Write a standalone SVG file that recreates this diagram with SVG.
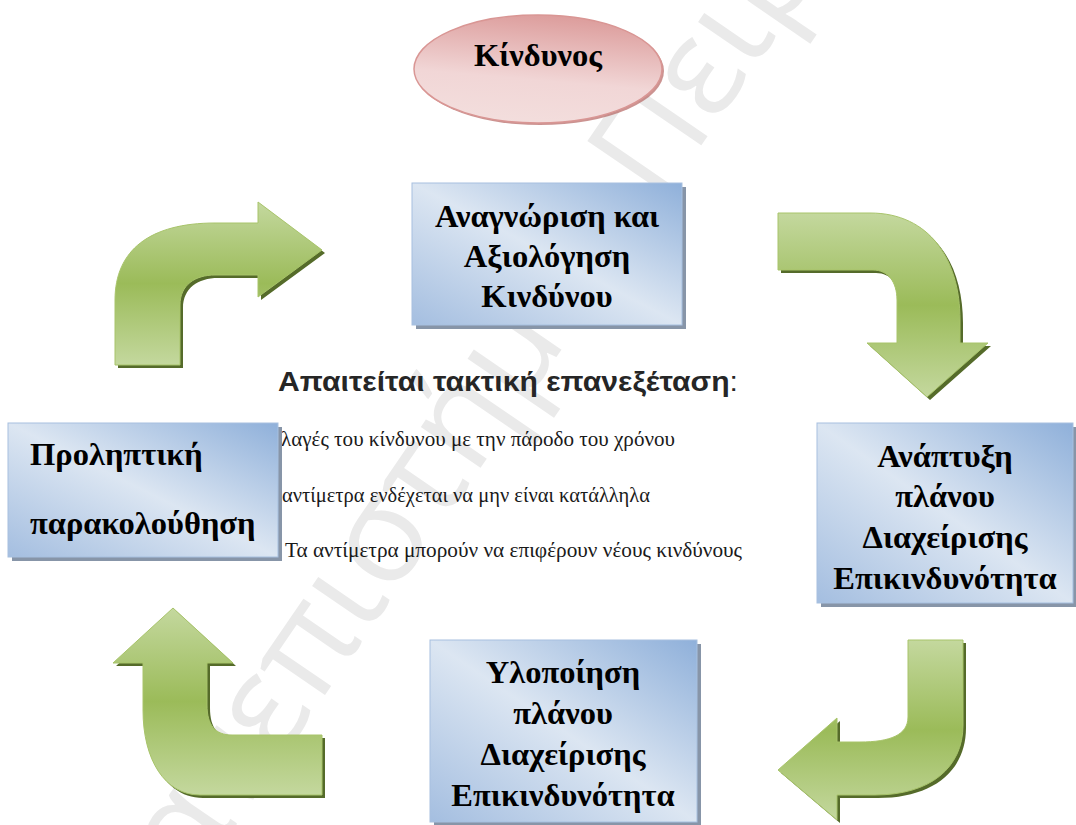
<svg xmlns="http://www.w3.org/2000/svg" width="1076" height="825" viewBox="0 0 1076 825">
<defs>
<linearGradient id="boxGrad" x1="1" y1="0" x2="0" y2="1">
<stop offset="0" stop-color="#8fb0da"/>
<stop offset="0.5" stop-color="#dce6f2"/>
<stop offset="1" stop-color="#a4bee0"/>
</linearGradient>
<linearGradient id="ellGrad" x1="0.6" y1="0" x2="0.4" y2="1">
<stop offset="0" stop-color="#dc9c9b"/>
<stop offset="0.6" stop-color="#f1d6d6"/>
<stop offset="1" stop-color="#f3dedd"/>
</linearGradient>
<linearGradient id="arrGrad" x1="0" y1="0" x2="0" y2="1">
<stop offset="0" stop-color="#c4d89e"/>
<stop offset="0.5" stop-color="#9bbb59"/>
<stop offset="1" stop-color="#c4d89e"/>
</linearGradient>
<path id="a1" d="M115,365 L115,300 C115,250 150,223 215,223 L258,223 L258,202 L322,250 L258,297 L258,275 L215,275 C195,275 180,285 180,305 L180,365 Z"/>
<path id="a2" d="M778,213 L870,213 C930,213 960,260 960,320 L960,343 L988,343 L927,397 L867,343 L897,343 L897,300 C897,282 888,270 873,270 L778,270 Z"/>
<path id="a3" d="M908,640 L963,640 L963,725 C963,768 930,795 875,795 L837,795 L837,820 L778,770 L837,718 L837,742 L860,742 C890,742 908,735 908,717 Z"/>
<path id="a4" d="M322,735 L322,795 L200,795 C165,795 143,760 143,710 L143,663 L113,663 L173,608 L233,663 L207,663 L207,705 C207,725 215,735 232,735 Z"/>
</defs>
<style>
.box{fill:url(#boxGrad);stroke:#a7c0df;stroke-width:1}
.bshadow{fill:#8795a8}
.btxt{font-family:"Liberation Serif","Times New Roman",serif;font-weight:bold;font-size:32.5px;fill:#000;text-anchor:middle}
.ltxt{font-family:"Liberation Serif","Times New Roman",serif;font-weight:bold;font-size:32.5px;fill:#000}
.arrow{fill:url(#arrGrad);stroke:#a8c46a;stroke-width:1}
.ashadow{fill:#556b2a}
.wm{font-family:"Open Sans","DejaVu Sans",sans-serif;font-size:135px;fill:#eaeaea}
.bul{font-family:"Liberation Serif","Times New Roman",serif;font-size:20px;fill:#1a1a1a}
.head{font-family:"Liberation Sans",Arial,sans-serif;font-size:28px;font-weight:bold;fill:#262626}
</style>
<rect width="1076" height="825" fill="#ffffff"/>
<text class="wm" transform="translate(136,971) rotate(-55.6)">Πανεπιστήμιο Πειραιώς</text>

<g id="review-text">
<text class="head" x="278" y="391" textLength="460" lengthAdjust="spacingAndGlyphs">Απαιτείται τακτική επανεξέταση<tspan font-weight="normal">:</tspan></text>
<text class="bul" x="281" y="446" textLength="394" lengthAdjust="spacingAndGlyphs">λαγές του κίνδυνου με την πάροδο του χρόνου</text>
<text class="bul" x="282" y="502" textLength="368" lengthAdjust="spacingAndGlyphs">αντίμετρα ενδέχεται να μην είναι κατάλληλα</text>
<text class="bul" x="285" y="557" textLength="457" lengthAdjust="spacingAndGlyphs">Τα αντίμετρα μπορούν να επιφέρουν νέους κινδύνους</text>
</g>

<g id="connectors">
<use href="#a1" class="ashadow" transform="translate(3,3)"/>
<use href="#a1" class="arrow"/>
<use href="#a2" class="ashadow" transform="translate(3,3)"/>
<use href="#a2" class="arrow"/>
<use href="#a3" class="ashadow" transform="translate(3,3)"/>
<use href="#a3" class="arrow"/>
<use href="#a4" class="ashadow" transform="translate(3,3)"/>
<use href="#a4" class="arrow"/>
</g>

<g id="risk">
<ellipse cx="540" cy="71" rx="124" ry="54" fill="#b56563" opacity="0.7"/>
<ellipse cx="538" cy="69" rx="124" ry="54" fill="url(#ellGrad)" stroke="#d99694" stroke-width="1.5"/>
<text class="btxt" x="538" y="66">Κίνδυνος</text>
</g>

<g id="identify">
<rect class="bshadow" x="416" y="187" width="270" height="142"/>
<rect class="box" x="412" y="183" width="270" height="142"/>
<text class="btxt" x="547" y="227">Αναγνώριση και</text>
<text class="btxt" x="547" y="267">Αξιολόγηση</text>
<text class="btxt" x="547" y="307">Κινδύνου</text>
</g>

<g id="develop">
<rect class="bshadow" x="821" y="427" width="255" height="180"/>
<rect class="box" x="817" y="423" width="256" height="180"/>
<text class="btxt" x="945" y="467">Ανάπτυξη</text>
<text class="btxt" x="945" y="507">πλάνου</text>
<text class="btxt" x="945" y="548">Διαχείρισης</text>
<text class="btxt" x="945" y="589">Επικινδυνότητα</text>
</g>

<g id="implement">
<rect class="bshadow" x="434" y="644" width="267" height="181"/>
<rect class="box" x="430" y="640" width="267" height="182"/>
<text class="btxt" x="563" y="683">Υλοποίηση</text>
<text class="btxt" x="563" y="724">πλάνου</text>
<text class="btxt" x="563" y="765">Διαχείρισης</text>
<text class="btxt" x="563" y="806">Επικινδυνότητα</text>
</g>

<g id="monitor">
<rect class="bshadow" x="12" y="427" width="270" height="134"/>
<rect class="box" x="8" y="423" width="270" height="134"/>
<text class="ltxt" x="30" y="465">Προληπτική</text>
<text class="ltxt" x="30" y="534">παρακολούθηση</text>
</g>
</svg>
